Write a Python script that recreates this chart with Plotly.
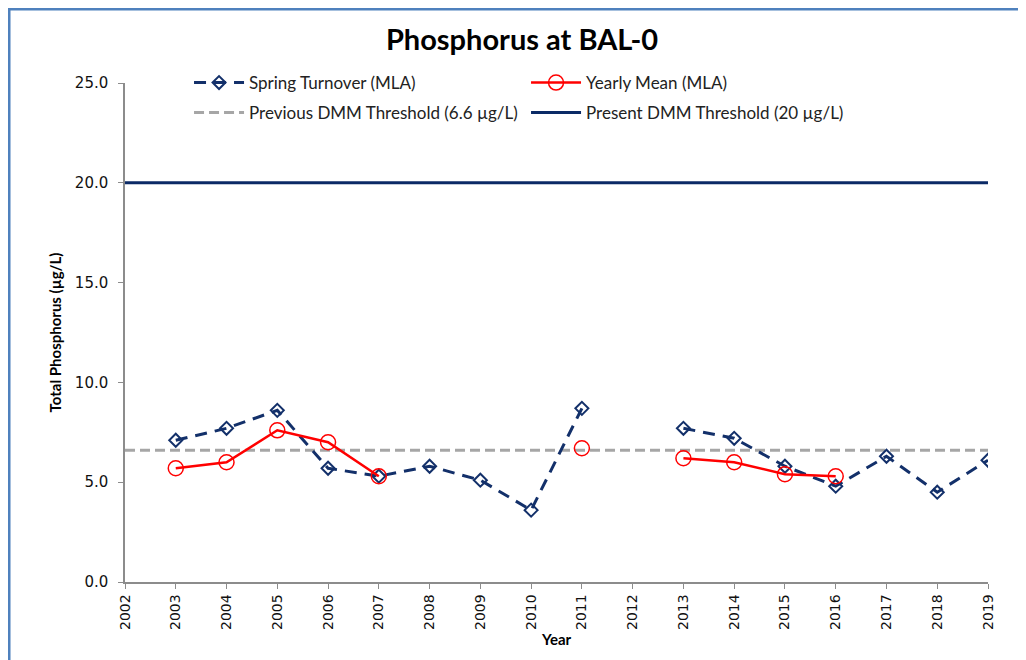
import plotly.graph_objects as go

years = list(range(2003, 2020))
spring = [7.1, 7.7, 8.6, 5.7, 5.3, 5.8, 5.1, 3.6, 8.7, None, 7.7, 7.2, 5.8, 4.8, 6.3, 4.5, 6.1]
yearly = [5.7, 6.0, 7.6, 7.0, 5.3, None, None, None, 6.7, None, 6.2, 6.0, 5.4, 5.3, None, None, None]
thr_x = [2002, 2019]
prev_thr = [6.6, 6.6]
pres_thr = [20, 20]
tick_years = list(range(2002, 2020))
y_ticks = [0, 5, 10, 15, 20, 25]

navy = "#13306A"
fig = go.Figure()
fig.add_trace(go.Scatter(x=thr_x, y=prev_thr, mode="lines", name="Previous DMM Threshold (6.6 µg/L)",
                         line=dict(color="#A6A6A6", width=3, dash="10px,5px"), legend="legend2"))
fig.add_trace(go.Scatter(x=thr_x, y=pres_thr, mode="lines", name="Present DMM Threshold (20 µg/L)",
                         line=dict(color="#0B2A66", width=3), legend="legend2"))
fig.add_trace(go.Scatter(x=years, y=spring, mode="lines+markers", name="Spring Turnover (MLA)",
                         line=dict(color=navy, width=3, dash="12px,8px"),
                         marker=dict(symbol="diamond-open", size=10, color=navy, line=dict(width=2)),
                         connectgaps=False, legend="legend"))
fig.add_trace(go.Scatter(x=years, y=yearly, mode="lines+markers", name="Yearly Mean (MLA)",
                         line=dict(color="#FF0000", width=2.5),
                         marker=dict(symbol="circle-open", size=15, color="#FF0000", line=dict(width=1.5)),
                         connectgaps=False, legend="legend"))

axis_line = "#8C8C8C"
leg_font = dict(family="Lato, Calibri, sans-serif", size=17, color="#222")
leg_common = dict(orientation="h", xanchor="left", yanchor="middle", entrywidth=272,
                  entrywidthmode="pixels", bgcolor="rgba(0,0,0,0)", font=leg_font,
                  traceorder="normal", itemwidth=50)
fig.update_layout(
    width=1026, height=660,
    margin=dict(l=117, r=46, t=75, b=86),
    paper_bgcolor="white", plot_bgcolor="white",
    title=dict(text="<b>Phosphorus at BAL-0</b>", x=0.501, xanchor="center", y=0.9515, yanchor="middle",
               font=dict(family="Lato, Calibri, sans-serif", size=29, color="black")),
    showlegend=True,
    legend=dict(x=0.0742, y=1.0, **leg_common),
    legend2=dict(x=0.0742, y=0.9399, **leg_common),
    xaxis=dict(range=[2002, 2019], tickvals=tick_years, ticktext=[str(y) for y in tick_years],
               tickangle=-90, showgrid=False, zeroline=False, showline=True, linecolor=axis_line,
               linewidth=1.5, ticks="outside", ticklen=5, tickcolor=axis_line,
               tickfont=dict(family="DejaVu Sans", size=14, color="#111"),
               title=dict(text="<b>Year</b>", font=dict(family="Lato, Calibri, sans-serif", size=15, color="black"),
                          standoff=6)),
    yaxis=dict(range=[0, 25], tickvals=y_ticks, ticktext=[f"{v:.1f}" for v in y_ticks],
               showgrid=False, zeroline=False, showline=True, linecolor=axis_line, linewidth=1.5,
               ticks="outside", ticklen=5, tickcolor=axis_line, ticklabelstandoff=7,
               tickfont=dict(family="DejaVu Sans", size=15, color="#111"),
               title=dict(text="<b>Total Phosphorus (µg/L)</b>",
                          font=dict(family="Lato, Calibri, sans-serif", size=15, color="black"), standoff=10)),
    shapes=[dict(type="rect", xref="paper", yref="paper", x0=-0.1344, x1=1.2, y0=-0.3, y1=1.1483,
                 line=dict(color="#4F81BD", width=3), fillcolor="rgba(0,0,0,0)", layer="above")],
)
fig.write_html("out.html")
